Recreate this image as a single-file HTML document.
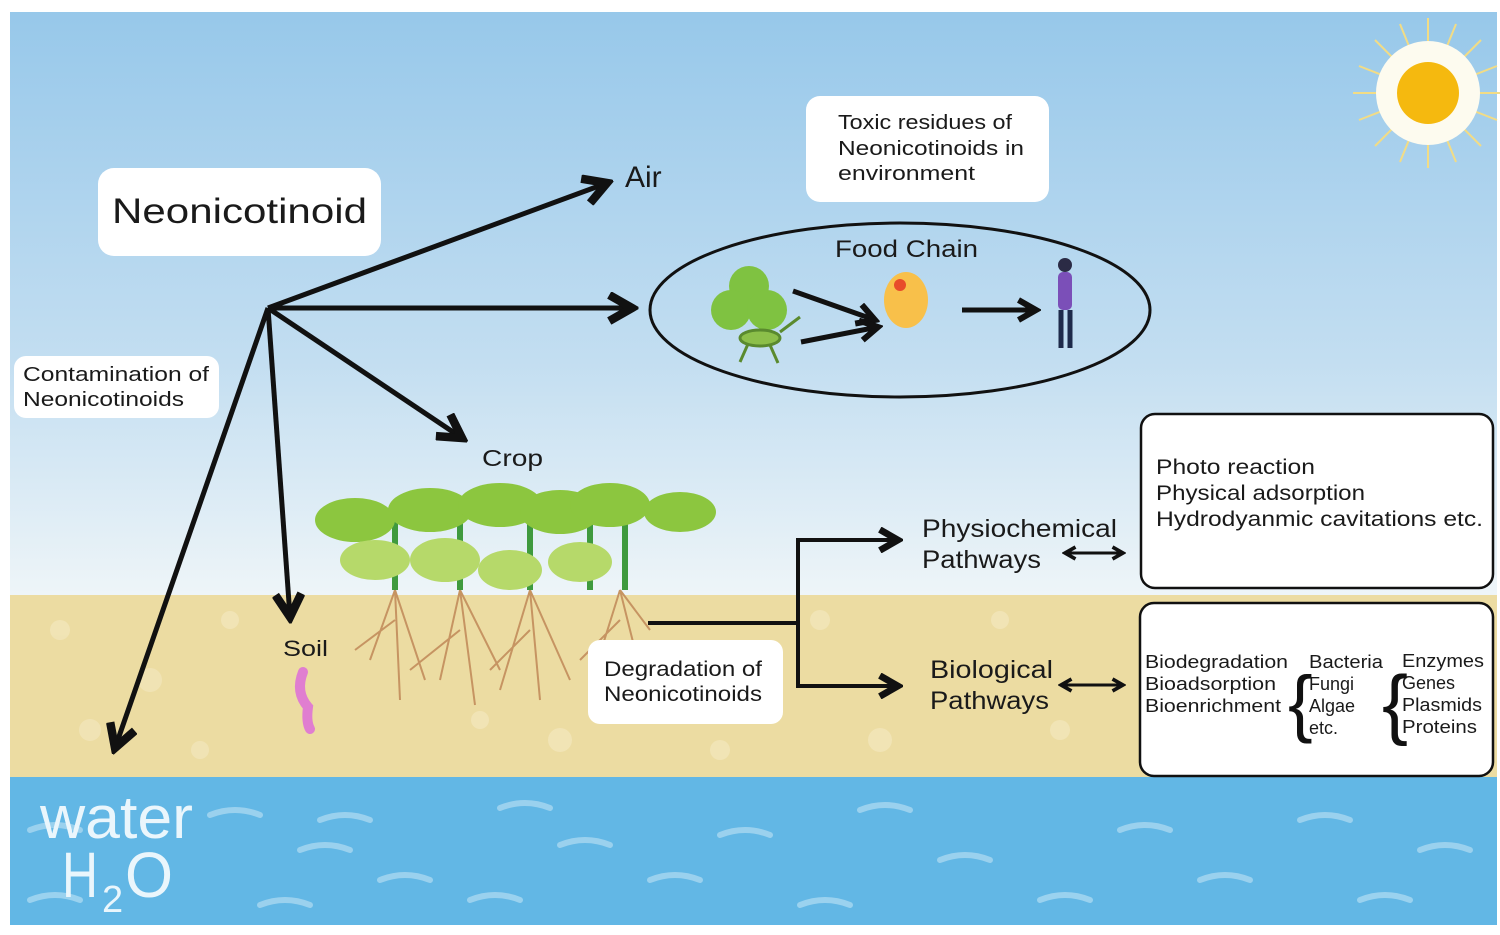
<!DOCTYPE html>
<html><head><meta charset="utf-8"><style>
html,body{margin:0;padding:0;background:#fff}
svg{display:block}
text{font-family:"Liberation Sans",sans-serif;fill:#1a1a1a}
</style></head><body>
<svg width="1500" height="935" viewBox="0 0 1500 935" xmlns="http://www.w3.org/2000/svg">
<defs>
<linearGradient id="sky" x1="0" y1="0" x2="0" y2="1">
<stop offset="0" stop-color="#97c8ea"/><stop offset="0.6" stop-color="#c3def1"/><stop offset="1" stop-color="#eef5f8"/>
</linearGradient>
<marker id="ah" viewBox="0 0 10 10" refX="8" refY="5" markerWidth="6.5" markerHeight="6.5" orient="auto-start-reverse">
<path d="M1,1 L8,5 L1,9" fill="none" stroke="#111" stroke-width="2.6"/>
</marker>
<marker id="ah2" viewBox="0 0 10 10" refX="8" refY="5" markerWidth="5" markerHeight="5" orient="auto-start-reverse">
<path d="M1,1 L8,5 L1,9" fill="none" stroke="#111" stroke-width="2.4"/>
</marker>
</defs>
<rect x="0" y="0" width="1500" height="935" fill="#fff"/>
<rect x="10" y="12" width="1487" height="583" fill="url(#sky)"/>
<rect x="10" y="595" width="1487" height="182" fill="#ecdca2"/>
<g fill="#f3e7bd" opacity="0.7">
<circle cx="60" cy="630" r="10"/><circle cx="150" cy="680" r="12"/><circle cx="230" cy="620" r="9"/><circle cx="90" cy="730" r="11"/><circle cx="200" cy="750" r="9"/><circle cx="560" cy="740" r="12"/><circle cx="820" cy="620" r="10"/><circle cx="880" cy="740" r="12"/><circle cx="1060" cy="730" r="10"/><circle cx="1000" cy="620" r="9"/><circle cx="480" cy="720" r="9"/><circle cx="720" cy="750" r="10"/>
</g>
<rect x="10" y="777" width="1487" height="148" fill="#62b7e5"/>
<g fill="none" stroke="#a9d8f1" stroke-width="6" stroke-linecap="round" opacity="0.8">
<path d="M210 815 q25 -10 50 0"/><path d="M320 820 q25 -10 50 0"/><path d="M500 808 q25 -10 50 0"/><path d="M300 850 q25 -10 50 0"/><path d="M380 880 q25 -10 50 0"/><path d="M560 845 q25 -10 50 0"/><path d="M260 905 q25 -10 50 0"/><path d="M470 900 q25 -10 50 0"/><path d="M650 880 q25 -10 50 0"/><path d="M720 835 q25 -10 50 0"/><path d="M860 810 q25 -10 50 0"/><path d="M940 860 q25 -10 50 0"/><path d="M1040 900 q25 -10 50 0"/><path d="M1120 830 q25 -10 50 0"/><path d="M1200 880 q25 -10 50 0"/><path d="M1300 820 q25 -10 50 0"/><path d="M1360 900 q25 -10 50 0"/><path d="M1420 850 q25 -10 50 0"/><path d="M800 905 q25 -10 50 0"/><path d="M30 900 q25 -10 50 0"/><path d="M30 830 q25 -10 50 0"/>
</g>
<text x="40" y="838" font-size="60" textLength="153" lengthAdjust="spacingAndGlyphs" style="fill:#eaf6fc">water</text>
<text x="62" y="897" font-size="64" textLength="36" lengthAdjust="spacingAndGlyphs" style="fill:#eaf6fc">H</text>
<text x="102" y="912" font-size="38" style="fill:#eaf6fc">2</text>
<text x="125" y="897" font-size="64" textLength="48" lengthAdjust="spacingAndGlyphs" style="fill:#eaf6fc">O</text>
<!-- sun -->
<g stroke="#f2dc85" stroke-width="2">
<path d="M1428 18 V168 M1353 93 H1503 M1375 40 L1481 146 M1481 40 L1375 146 M1400 24 L1456 162 M1456 24 L1400 162 M1359 66 L1497 120 M1359 120 L1497 66"/>
</g>
<circle cx="1428" cy="93" r="52" fill="#fdfbef"/>
<circle cx="1428" cy="93" r="31" fill="#f5b90f"/>
<!-- labels boxes -->
<rect x="98" y="168" width="283" height="88" rx="16" fill="#fff"/>
<text x="112" y="223" font-size="35" textLength="255" lengthAdjust="spacingAndGlyphs">Neonicotinoid</text>
<rect x="14" y="356" width="205" height="62" rx="12" fill="#fff"/>
<text x="23" y="381" font-size="20" textLength="186" lengthAdjust="spacingAndGlyphs">Contamination of</text>
<text x="23" y="406" font-size="20" textLength="161" lengthAdjust="spacingAndGlyphs">Neonicotinoids</text>
<rect x="806" y="96" width="243" height="106" rx="14" fill="#fff"/>
<text x="838" y="129" font-size="20" textLength="174" lengthAdjust="spacingAndGlyphs">Toxic residues of</text>
<text x="838" y="155" font-size="20" textLength="186" lengthAdjust="spacingAndGlyphs">Neonicotinoids in</text>
<text x="838" y="180" font-size="20" textLength="137" lengthAdjust="spacingAndGlyphs">environment</text>
<text x="625" y="187" font-size="30">Air</text>
<text x="482" y="466" font-size="23" textLength="61" lengthAdjust="spacingAndGlyphs">Crop</text>
<text x="283" y="656" font-size="22" textLength="45" lengthAdjust="spacingAndGlyphs">Soil</text>
<!-- main arrows -->
<g stroke="#111" stroke-width="5" fill="none" marker-end="url(#ah)">
<line x1="268" y1="308" x2="607" y2="183"/>
<line x1="268" y1="308" x2="632" y2="308"/>
<line x1="268" y1="308" x2="462" y2="438"/>
<line x1="268" y1="308" x2="290" y2="617"/>
<line x1="268" y1="308" x2="115" y2="748"/>
</g>
<!-- food chain -->
<ellipse cx="900" cy="310" rx="250" ry="87" fill="none" stroke="#111" stroke-width="3"/>
<text x="835" y="257" font-size="24" textLength="143" lengthAdjust="spacingAndGlyphs">Food Chain</text>
<g fill="#7fc241"><circle cx="749" cy="286" r="20"/><circle cx="731" cy="310" r="20"/><circle cx="767" cy="310" r="20"/></g>
<g stroke="#5a8a2e" stroke-width="3" fill="#8cbf4a"><ellipse cx="760" cy="338" rx="20" ry="8"/><path d="M748 344 l-8 18 M770 345 l8 18 M780 332 l20 -15"/></g>
<ellipse cx="906" cy="300" rx="22" ry="28" fill="#f8c04a"/>
<circle cx="900" cy="285" r="6" fill="#e84b2a"/>
<rect x="1058" y="272" width="14" height="38" rx="5" fill="#7b4fb8"/>
<circle cx="1065" cy="265" r="7" fill="#2b2b45"/>
<path d="M1061 310 v38 M1070 310 v38" stroke="#1e2a4a" stroke-width="5"/>
<g stroke="#111" stroke-width="5" fill="none" marker-end="url(#ah2)">
<line x1="793" y1="291" x2="875" y2="320"/>
<line x1="801" y1="342" x2="878" y2="327"/>
<line x1="962" y1="310" x2="1036" y2="310"/>
</g>
<!-- plants -->
<g stroke="#c69462" stroke-width="2" fill="none">
<path d="M395 590 l-25 70 M395 590 l5 110 M395 590 l30 90 M460 590 l-20 90 M460 590 l15 115 M460 590 l40 80 M530 590 l-30 100 M530 590 l10 110 M530 590 l40 90 M620 590 l-25 80 M620 590 l15 60 M620 590 l30 40 M395 620 l-40 30 M460 630 l-50 40 M530 630 l-40 40 M620 620 l-40 40"/>
</g>
<g stroke="#3f9a3e" stroke-width="6"><path d="M395 590 V510 M460 590 V500 M530 590 V505 M590 590 V510 M625 590 V510"/></g>
<g fill="#8cc63f">
<ellipse cx="355" cy="520" rx="40" ry="22"/><ellipse cx="430" cy="510" rx="42" ry="22"/><ellipse cx="500" cy="505" rx="42" ry="22"/><ellipse cx="560" cy="512" rx="40" ry="22"/><ellipse cx="610" cy="505" rx="40" ry="22"/><ellipse cx="680" cy="512" rx="36" ry="20"/>
</g>
<g fill="#b6d96a">
<ellipse cx="375" cy="560" rx="35" ry="20"/><ellipse cx="445" cy="560" rx="35" ry="22"/><ellipse cx="510" cy="570" rx="32" ry="20"/><ellipse cx="580" cy="562" rx="32" ry="20"/>
</g>
<path d="M303 672 q-8 20 5 35 q-2 15 2 22" stroke="#e07ed0" stroke-width="10" fill="none" stroke-linecap="round"/>
<!-- degradation -->
<rect x="588" y="640" width="195" height="84" rx="12" fill="#fff"/>
<text x="604" y="676" font-size="21" textLength="158" lengthAdjust="spacingAndGlyphs">Degradation of</text>
<text x="604" y="701" font-size="21" textLength="158" lengthAdjust="spacingAndGlyphs">Neonicotinoids</text>
<path d="M648 623 H798" stroke="#111" stroke-width="4"/>
<path d="M798 540 V686" stroke="#111" stroke-width="4"/>
<g stroke="#111" stroke-width="4" fill="none" marker-end="url(#ah)">
<line x1="796" y1="540" x2="898" y2="540"/>
<line x1="796" y1="686" x2="898" y2="686"/>
</g>
<text x="922" y="537" font-size="25" textLength="195" lengthAdjust="spacingAndGlyphs">Physiochemical</text>
<text x="922" y="568" font-size="25" textLength="119" lengthAdjust="spacingAndGlyphs">Pathways</text>
<text x="930" y="678" font-size="25" textLength="123" lengthAdjust="spacingAndGlyphs">Biological</text>
<text x="930" y="709" font-size="25" textLength="119" lengthAdjust="spacingAndGlyphs">Pathways</text>
<g stroke="#111" stroke-width="3" fill="none" marker-start="url(#ah2)" marker-end="url(#ah2)">
<line x1="1065" y1="553" x2="1123" y2="553"/>
<line x1="1061" y1="685" x2="1123" y2="685"/>
</g>
<rect x="1141" y="414" width="352" height="174" rx="14" fill="#fff" stroke="#111" stroke-width="2.5"/>
<text x="1156" y="474" font-size="21" textLength="159" lengthAdjust="spacingAndGlyphs">Photo reaction</text>
<text x="1156" y="500" font-size="21" textLength="209" lengthAdjust="spacingAndGlyphs">Physical adsorption</text>
<text x="1156" y="526" font-size="21" textLength="327" lengthAdjust="spacingAndGlyphs">Hydrodyanmic cavitations etc.</text>
<rect x="1140" y="603" width="353" height="173" rx="14" fill="#fff" stroke="#111" stroke-width="2.5"/>
<g font-size="18">
<text x="1145" y="668" textLength="143" lengthAdjust="spacingAndGlyphs">Biodegradation</text><text x="1145" y="690" textLength="131" lengthAdjust="spacingAndGlyphs">Bioadsorption</text><text x="1145" y="712" textLength="136" lengthAdjust="spacingAndGlyphs">Bioenrichment</text>
<text x="1309" y="668" textLength="74" lengthAdjust="spacingAndGlyphs">Bacteria</text><text x="1309" y="690">Fungi</text><text x="1309" y="712">Algae</text><text x="1309" y="734">etc.</text>
<text x="1402" y="667" textLength="82" lengthAdjust="spacingAndGlyphs">Enzymes</text><text x="1402" y="689">Genes</text><text x="1402" y="711" textLength="80" lengthAdjust="spacingAndGlyphs">Plasmids</text><text x="1402" y="733" textLength="75" lengthAdjust="spacingAndGlyphs">Proteins</text>
</g>
<text x="1288" y="728" font-size="74" font-weight="300" style="fill:#111">{</text>
<text x="1382" y="730" font-size="78" font-weight="300" style="fill:#111">{</text>
</svg>
</body></html>
